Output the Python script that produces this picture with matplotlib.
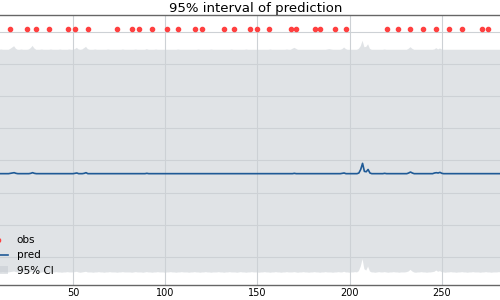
import numpy as np
import matplotlib.pyplot as plt

# time index of the series
t = np.arange(300)

pred = [
    2.59, 2.59, 2.59, 2.59, 2.59, 2.59, 2.59, 2.59, 2.59, 2.59, 2.59, 2.59, 2.59, 2.59, 2.59, 2.59, 2.60, 2.61, 2.62, 2.60,
    2.59, 2.59, 2.59, 2.59, 2.59, 2.59, 2.59, 2.60, 2.62, 2.60, 2.59, 2.59, 2.59, 2.59, 2.59, 2.59, 2.59, 2.59, 2.59, 2.59,
    2.59, 2.59, 2.59, 2.59, 2.59, 2.59, 2.59, 2.59, 2.59, 2.59, 2.59, 2.60, 2.61, 2.59, 2.59, 2.59, 2.60, 2.62, 2.59, 2.59,
    2.59, 2.59, 2.59, 2.59, 2.59, 2.59, 2.59, 2.59, 2.59, 2.59, 2.59, 2.59, 2.59, 2.59, 2.59, 2.59, 2.59, 2.59, 2.59, 2.59,
    2.59, 2.59, 2.59, 2.59, 2.59, 2.59, 2.59, 2.59, 2.59, 2.59, 2.60, 2.59, 2.59, 2.59, 2.59, 2.59, 2.59, 2.59, 2.59, 2.59,
    2.59, 2.59, 2.59, 2.59, 2.59, 2.59, 2.59, 2.59, 2.59, 2.59, 2.59, 2.59, 2.59, 2.59, 2.59, 2.59, 2.59, 2.59, 2.59, 2.59,
    2.59, 2.59, 2.59, 2.59, 2.59, 2.59, 2.59, 2.59, 2.59, 2.59, 2.59, 2.59, 2.59, 2.59, 2.59, 2.59, 2.59, 2.59, 2.59, 2.59,
    2.59, 2.59, 2.59, 2.59, 2.59, 2.59, 2.59, 2.59, 2.59, 2.59, 2.59, 2.59, 2.59, 2.59, 2.59, 2.59, 2.59, 2.59, 2.59, 2.59,
    2.59, 2.59, 2.59, 2.59, 2.59, 2.59, 2.59, 2.59, 2.59, 2.59, 2.60, 2.59, 2.59, 2.59, 2.59, 2.59, 2.59, 2.59, 2.59, 2.59,
    2.59, 2.59, 2.59, 2.59, 2.59, 2.59, 2.59, 2.59, 2.59, 2.59, 2.59, 2.59, 2.59, 2.59, 2.59, 2.59, 2.60, 2.61, 2.59, 2.59,
    2.59, 2.59, 2.59, 2.59, 2.59, 2.61, 2.72, 2.91, 2.66, 2.65, 2.72, 2.61, 2.59, 2.59, 2.59, 2.59, 2.59, 2.59, 2.59, 2.60,
    2.59, 2.59, 2.59, 2.59, 2.59, 2.59, 2.59, 2.59, 2.59, 2.59, 2.59, 2.59, 2.61, 2.64, 2.61, 2.59, 2.59, 2.59, 2.59, 2.59,
    2.59, 2.59, 2.59, 2.59, 2.59, 2.59, 2.61, 2.62, 2.61, 2.63, 2.60, 2.59, 2.59, 2.59, 2.59, 2.59, 2.59, 2.59, 2.59, 2.59,
    2.59, 2.59, 2.59, 2.59, 2.59, 2.59, 2.59, 2.59, 2.59, 2.59, 2.59, 2.59, 2.59, 2.59, 2.59, 2.59, 2.59, 2.59, 2.59, 2.59,
    2.59, 2.59, 2.59, 2.59, 2.59, 2.59, 2.59, 2.59, 2.59, 2.59, 2.59, 2.59, 2.59, 2.59, 2.59, 2.59, 2.59, 2.59, 2.59, 2.59,
]

upper = [
    6.44, 6.44, 6.45, 6.44, 6.44, 6.44, 6.45, 6.44, 6.44, 6.44, 6.44, 6.45, 6.44, 6.44, 6.44, 6.44, 6.47, 6.51, 6.55, 6.47,
    6.44, 6.44, 6.45, 6.44, 6.44, 6.44, 6.45, 6.49, 6.56, 6.48, 6.44, 6.44, 6.44, 6.45, 6.44, 6.44, 6.44, 6.44, 6.45, 6.44,
    6.44, 6.44, 6.44, 6.45, 6.44, 6.44, 6.44, 6.44, 6.45, 6.44, 6.44, 6.46, 6.50, 6.45, 6.44, 6.45, 6.49, 6.53, 6.46, 6.44,
    6.44, 6.44, 6.45, 6.44, 6.44, 6.44, 6.44, 6.44, 6.44, 6.45, 6.44, 6.44, 6.44, 6.44, 6.44, 6.44, 6.44, 6.45, 6.44, 6.44,
    6.44, 6.44, 6.44, 6.44, 6.45, 6.44, 6.44, 6.44, 6.44, 6.44, 6.46, 6.44, 6.44, 6.44, 6.44, 6.45, 6.44, 6.44, 6.44, 6.44,
    6.44, 6.44, 6.44, 6.44, 6.44, 6.44, 6.44, 6.45, 6.44, 6.44, 6.44, 6.44, 6.44, 6.44, 6.44, 6.44, 6.44, 6.44, 6.45, 6.44,
    6.44, 6.44, 6.44, 6.44, 6.44, 6.45, 6.44, 6.44, 6.44, 6.44, 6.44, 6.44, 6.44, 6.44, 6.44, 6.44, 6.45, 6.44, 6.44, 6.44,
    6.44, 6.44, 6.44, 6.44, 6.45, 6.44, 6.44, 6.44, 6.44, 6.44, 6.44, 6.44, 6.44, 6.44, 6.44, 6.44, 6.44, 6.45, 6.44, 6.44,
    6.44, 6.44, 6.44, 6.44, 6.44, 6.44, 6.45, 6.44, 6.44, 6.47, 6.50, 6.47, 6.44, 6.44, 6.44, 6.44, 6.44, 6.44, 6.44, 6.44,
    6.44, 6.44, 6.44, 6.44, 6.44, 6.44, 6.44, 6.44, 6.45, 6.46, 6.45, 6.44, 6.44, 6.44, 6.44, 6.44, 6.46, 6.51, 6.46, 6.44,
    6.44, 6.44, 6.44, 6.44, 6.44, 6.47, 6.55, 6.72, 6.52, 6.53, 6.61, 6.47, 6.44, 6.44, 6.44, 6.44, 6.44, 6.44, 6.44, 6.45,
    6.44, 6.44, 6.44, 6.44, 6.44, 6.44, 6.44, 6.44, 6.44, 6.44, 6.44, 6.44, 6.47, 6.52, 6.47, 6.44, 6.44, 6.44, 6.44, 6.44,
    6.44, 6.44, 6.44, 6.44, 6.44, 6.44, 6.45, 6.49, 6.45, 6.48, 6.45, 6.44, 6.44, 6.44, 6.44, 6.44, 6.44, 6.44, 6.44, 6.44,
    6.44, 6.44, 6.44, 6.44, 6.44, 6.44, 6.44, 6.44, 6.44, 6.44, 6.44, 6.44, 6.44, 6.44, 6.44, 6.44, 6.44, 6.44, 6.44, 6.44,
    6.44, 6.44, 6.44, 6.44, 6.44, 6.44, 6.44, 6.44, 6.44, 6.44, 6.44, 6.44, 6.44, 6.44, 6.44, 6.44, 6.44, 6.44, 6.44, 6.44,
]

lower = [
    -0.48, -0.47, -0.48, -0.49, -0.48, -0.48, -0.47, -0.48, -0.48, -0.49, -0.48, -0.48, -0.47, -0.48, -0.48, -0.48, -0.47, -0.46, -0.45, -0.47,
    -0.48, -0.49, -0.48, -0.48, -0.47, -0.48, -0.48, -0.47, -0.45, -0.47, -0.48, -0.48, -0.49, -0.48, -0.47, -0.48, -0.48, -0.48, -0.49, -0.48,
    -0.48, -0.47, -0.48, -0.48, -0.49, -0.48, -0.48, -0.47, -0.48, -0.48, -0.48, -0.47, -0.46, -0.48, -0.49, -0.48, -0.47, -0.46, -0.48, -0.48,
    -0.48, -0.49, -0.48, -0.48, -0.47, -0.48, -0.48, -0.49, -0.48, -0.48, -0.47, -0.48, -0.48, -0.48, -0.49, -0.48, -0.48, -0.47, -0.48, -0.48,
    -0.48, -0.48, -0.49, -0.48, -0.47, -0.48, -0.48, -0.48, -0.49, -0.48, -0.47, -0.48, -0.48, -0.49, -0.48, -0.48, -0.47, -0.48, -0.48, -0.48,
    -0.49, -0.48, -0.48, -0.47, -0.48, -0.48, -0.49, -0.48, -0.48, -0.47, -0.48, -0.48, -0.48, -0.49, -0.48, -0.48, -0.47, -0.48, -0.48, -0.49,
    -0.48, -0.48, -0.47, -0.48, -0.48, -0.49, -0.48, -0.48, -0.48, -0.47, -0.48, -0.48, -0.49, -0.48, -0.48, -0.47, -0.48, -0.48, -0.48, -0.49,
    -0.48, -0.47, -0.48, -0.48, -0.49, -0.48, -0.48, -0.47, -0.48, -0.48, -0.48, -0.49, -0.48, -0.48, -0.47, -0.48, -0.48, -0.49, -0.48, -0.48,
    -0.47, -0.48, -0.48, -0.49, -0.48, -0.48, -0.47, -0.48, -0.48, -0.48, -0.47, -0.48, -0.49, -0.48, -0.48, -0.47, -0.48, -0.48, -0.49, -0.48,
    -0.48, -0.47, -0.48, -0.48, -0.49, -0.48, -0.48, -0.47, -0.48, -0.48, -0.48, -0.49, -0.48, -0.48, -0.47, -0.48, -0.48, -0.46, -0.48, -0.48,
    -0.49, -0.48, -0.48, -0.47, -0.48, -0.44, -0.30, -0.07, -0.38, -0.42, -0.30, -0.45, -0.48, -0.48, -0.49, -0.48, -0.47, -0.48, -0.48, -0.47,
    -0.48, -0.49, -0.48, -0.48, -0.47, -0.48, -0.48, -0.49, -0.48, -0.48, -0.48, -0.47, -0.45, -0.40, -0.45, -0.48, -0.49, -0.48, -0.48, -0.47,
    -0.48, -0.48, -0.49, -0.48, -0.48, -0.47, -0.46, -0.42, -0.46, -0.44, -0.47, -0.48, -0.49, -0.48, -0.48, -0.47, -0.48, -0.48, -0.49, -0.48,
    -0.48, -0.47, -0.48, -0.48, -0.49, -0.48, -0.48, -0.47, -0.48, -0.48, -0.48, -0.49, -0.48, -0.48, -0.47, -0.48, -0.48, -0.49, -0.48, -0.48,
    -0.48, -0.47, -0.48, -0.48, -0.49, -0.48, -0.48, -0.47, -0.48, -0.48, -0.48, -0.49, -0.48, -0.48, -0.47, -0.48, -0.48, -0.49, -0.48, -0.48,
]

obs_t = [16, 25, 30, 37, 47, 51, 58, 74, 82, 86, 93, 101, 107, 116, 120, 132, 137,
         146, 150, 156, 168, 171, 181, 184, 192, 198,
         220, 226, 233, 240, 247, 254, 261, 272, 275]
obs_y = [7.07] * 26 + [7.10] * 9

fig = plt.figure(figsize=(5, 3), dpi=100)
# axes run past the canvas on both sides, like the cropped original
ax = fig.add_axes([-0.044, 0.05, 1.112, 0.9])

ax.fill_between(t, lower, upper, color='#c3c9cf', alpha=0.5, linewidth=0, label='95% CI')
ax.plot(t, pred, color='#1f5a96', lw=1.2, label='pred')
ax.plot(obs_t, obs_y, 'o', color='#ff4040', ms=3, label='obs')

ax.set_xlim(-1.6, 299.7)
ax.set_ylim(-0.87, 7.52)
ax.set_xticks(np.arange(0, 301, 50))
ax.set_yticks(np.arange(0, 8))
ax.grid(True, color='#cdd1d5', lw=0.8)
ax.tick_params(length=0, labelsize=7, pad=2)
ax.set_xlabel('t', fontsize=7)
ax.set_title('95% interval of prediction', fontsize=9.5, pad=2.5)

for s in ['top', 'bottom', 'left', 'right']:
    ax.spines[s].set_color('#666666')
    ax.spines[s].set_linewidth(1)

h, l = ax.get_legend_handles_labels()
ax.legend(h[::-1], l[::-1], loc='lower left', frameon=False, fontsize=7.5)

fig.savefig('out.png', dpi=100)
